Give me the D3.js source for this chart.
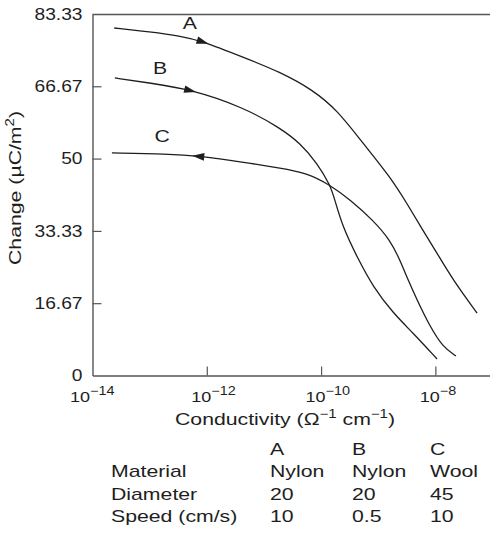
<!DOCTYPE html>
<html><head><meta charset="utf-8">
<script src="https://cdn.jsdelivr.net/npm/d3@7"></script>
<style>
html,body{margin:0;padding:0;background:#fff;}
svg{display:block;font-family:"Liberation Sans",Arial,Helvetica,sans-serif;}
</style></head><body>
<svg id="chart" width="490" height="533"></svg>
<script>
// log10 of conductivity (Ω⁻¹ cm⁻¹) and surface charge (µC/m²) along each curve
const logSigmaA = [-13.62, -12.99, -12.47, -12.08, -11.37, -10.72, -10.14, -9.72, -9.27, -8.79, -8.48, -8.22, -7.97, -7.69, -7.27];
const chargeA   = [80.1, 79.2, 78.3, 77.1, 73.4, 70.0, 65.8, 61.2, 53.6, 45.8, 39.3, 33.5, 28.2, 22.0, 14.4];
const logSigmaB = [-13.61, -12.99, -12.29, -11.37, -10.72, -10.37, -10.07, -9.84, -9.76, -9.62, -9.37, -9.09, -8.74, -8.39, -7.97];
const chargeB   = [68.6, 67.4, 66.0, 61.9, 57.1, 53.6, 49.0, 43.9, 40.5, 34.2, 27.3, 20.4, 14.4, 9.8, 3.8];
const logSigmaC = [-13.66, -12.70, -12.12, -11.37, -10.72, -10.25, -9.84, -9.49, -9.09, -8.79, -8.62, -8.50, -8.32, -8.09, -7.87, -7.64];
const chargeC   = [51.3, 51.1, 50.6, 49.2, 47.8, 46.7, 43.9, 40.5, 35.8, 31.2, 26.6, 22.7, 17.4, 11.2, 6.6, 4.5];

// where the direction arrow sits on each curve (log10 conductivity) and which way it points
const arrowLogSigma = [-12.07, -12.29, -12.15];
const arrowDir      = [1, 1, -1];
const curveNames    = ["A", "B", "C"];

// axis ticks
const yTicks    = [0, 16.67, 33.33, 50, 66.67, 83.33];
const xTickExps = [-14, -12, -10, -8];

// specimen table
const rowLabels = ["Material", "Diameter", "Speed (cm/s)"];
const materials = ["Nylon", "Nylon", "Wool"];
const diameters = ["20", "20", "45"];
const speeds    = ["10", "0.5", "10"];

const svg = d3.select("#chart");
const plotLeft = 92.5, plotTop = 14, plotBottom = 375.5;
const ink = "#1e1e1e", axisInk = "#555";
const wide = 1.25; // the lettering is set wide

// move a text's x/y into a transform and widen its glyphs about the anchor
function widen(sel, sx, rot) {
  sel.each(function() {
    const t = d3.select(this);
    const tx = +t.attr("x") || 0, ty = +t.attr("y") || 0;
    t.attr("x", null).attr("y", null)
      .attr("transform", `translate(${tx},${ty})${rot ? ` rotate(${rot})` : ""} scale(${sx},1)`);
  });
}

const x = d3.scaleLog().domain([1e-14, 1e-7]).range([plotLeft, plotLeft + 400]);
const y = d3.scaleLinear().domain([0, 83.33]).range([plotBottom, plotTop]);

// frame: top border
svg.append("line").attr("x1", plotLeft).attr("x2", 490).attr("y1", plotTop + 0.5).attr("y2", plotTop + 0.5)
  .attr("stroke", axisInk).attr("stroke-width", 1.4);

// y axis, ticks pointing inward
const yAxis = svg.append("g").attr("transform", `translate(${plotLeft},0)`)
  .call(d3.axisLeft(y).tickValues(yTicks).tickSizeInner(-9).tickSizeOuter(0).tickPadding(10)
    .tickFormat(d => String(d)));
yAxis.select(".domain").attr("stroke", axisInk).attr("stroke-width", 1.4);
yAxis.selectAll(".tick line").attr("stroke", axisInk).attr("stroke-width", 1.2);
yAxis.selectAll(".tick text").attr("font-size", 16).attr("fill", ink)
  .attr("font-family", "Liberation Sans, Arial, sans-serif").call(widen, 1.2);
yAxis.selectAll(".tick").filter(d => d === 0 || d === 83.33).select("line").remove();

// x axis, ticks pointing inward, power-of-ten labels (the corner label sits a little further left)
const xAxis = svg.append("g").attr("transform", `translate(0,${plotBottom})`)
  .call(d3.axisBottom(x).tickValues(xTickExps.map(e => Math.pow(10, e)))
    .tickSizeInner(-9).tickSizeOuter(0).tickFormat(""));
xAxis.select(".domain").attr("stroke", axisInk).attr("stroke-width", 1.4);
xAxis.selectAll(".tick line").attr("stroke", axisInk).attr("stroke-width", 1.2);
xAxis.selectAll(".tick").filter((d, i) => i === 0).select("line").remove();
xAxis.selectAll(".tick").each(function(d, i) {
  const t = d3.select(this).append("text")
    .attr("x", i === 0 ? -23 : -16).attr("y", 26.5).attr("text-anchor", "start")
    .attr("fill", ink).attr("font-size", 15);
  t.append("tspan").text("10");
  t.append("tspan").attr("dy", -7).attr("font-size", 12).text("\u2212" + Math.abs(xTickExps[i]));
  widen(t, 1.2);
});

// axis titles
const xt = svg.append("text").attr("x", 285).attr("y", 425).attr("text-anchor", "middle")
  .attr("font-size", 17).attr("fill", ink);
xt.append("tspan").text("Conductivity (\u03A9");
xt.append("tspan").attr("dy", -7).attr("font-size", 12).text("\u22121");
xt.append("tspan").attr("dy", 7).text(" cm");
xt.append("tspan").attr("dy", -7).attr("font-size", 12).text("\u22121");
xt.append("tspan").attr("dy", 7).text(")");
widen(xt, wide);

const yt = svg.append("text").attr("x", 21).attr("y", 188)
  .attr("text-anchor", "middle").attr("font-size", 17).attr("fill", ink);
yt.append("tspan").text("Change (\u00B5C/m");
yt.append("tspan").attr("dy", -7).attr("font-size", 12).text("2");
yt.append("tspan").attr("dy", 7).text(")");
widen(yt, wide, -90);

// curves
const series = [[logSigmaA, chargeA], [logSigmaB, chargeB], [logSigmaC, chargeC]];
const line = d3.line().x(d => x(Math.pow(10, d[0]))).y(d => y(d[1])).curve(d3.curveBasis);
const labelOffset = [[-13, -13], [-30, -17], [-36, -14]];

series.forEach(([xs, ys], k) => {
  const pts = xs.map((v, i) => [v, ys[i]]);
  const path = svg.append("path").datum(pts).attr("d", line)
    .attr("fill", "none").attr("stroke", ink).attr("stroke-width", 1.3);

  // locate the arrow point on the drawn path
  const node = path.node(), L = node.getTotalLength();
  const px = x(Math.pow(10, arrowLogSigma[k]));
  let lo = 0, hi = L;
  for (let it = 0; it < 40; it++) {
    const mid = (lo + hi) / 2;
    if (node.getPointAtLength(mid).x < px) lo = mid; else hi = mid;
  }
  const p = node.getPointAtLength(lo);
  const p0 = node.getPointAtLength(Math.max(0, lo - 2)), p1 = node.getPointAtLength(Math.min(L, lo + 2));
  let dx = p1.x - p0.x, dy = p1.y - p0.y;
  const n = Math.hypot(dx, dy); dx /= n; dy /= n;
  dx *= arrowDir[k]; dy *= arrowDir[k];
  const half = 6, w = 3.8;
  const tip = [p.x + dx * half, p.y + dy * half];
  const b1 = [p.x - dx * half - dy * w, p.y - dy * half + dx * w];
  const b2 = [p.x - dx * half + dy * w, p.y - dy * half - dx * w];
  svg.append("path").attr("d", `M${tip}L${b1}L${b2}Z`).attr("fill", ink);

  svg.append("text").attr("x", p.x + labelOffset[k][0]).attr("y", p.y + labelOffset[k][1])
    .attr("text-anchor", "middle").attr("font-size", 17).attr("fill", ink).text(curveNames[k])
    .call(widen, wide);
});

// specimen table
const colX = [270, 352, 430], labelX = 111, rowY = [455, 477, 500, 522];
const table = svg.append("g").attr("font-size", 17).attr("fill", ink);
table.selectAll("text.head").data(curveNames).join("text").attr("class", "head")
  .attr("x", (d, i) => colX[i]).attr("y", rowY[0]).text(d => d);
table.selectAll("text.rowlab").data(rowLabels).join("text").attr("class", "rowlab")
  .attr("x", labelX).attr("y", (d, i) => rowY[i + 1]).text(d => d);
[materials, diameters, speeds].forEach((vals, r) => {
  table.selectAll("text.r" + r).data(vals).join("text").attr("class", "r" + r)
    .attr("x", (d, i) => colX[i]).attr("y", rowY[r + 1]).text(d => d);
});
table.selectAll("text").call(widen, wide);
</script>
</body></html>
